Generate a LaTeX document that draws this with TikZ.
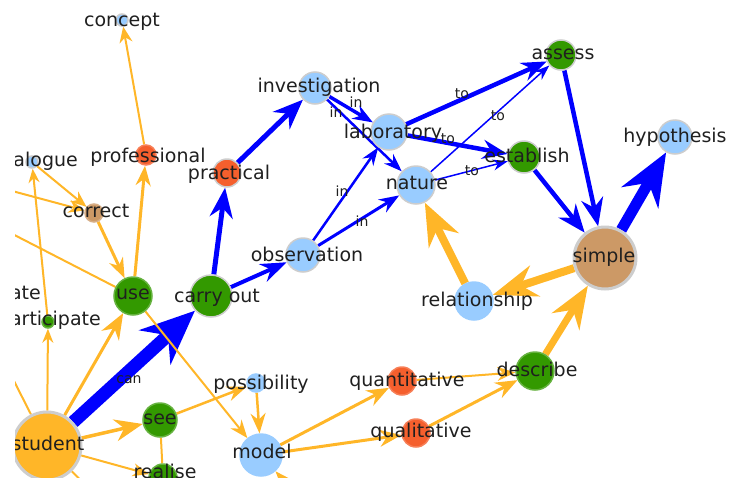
\documentclass[tikz,border=0pt]{standalone}
\usepackage{fontspec}
\setmainfont{DejaVu Sans}
\usetikzlibrary{arrows.meta}
\pgfdeclarelayer{bg}
\pgfsetlayers{bg,main}
\definecolor{lblue}{RGB}{153,204,255}
\definecolor{cgreen}{RGB}{51,153,0}
\definecolor{cred}{RGB}{245,95,45}
\definecolor{ctan}{RGB}{204,153,102}
\definecolor{cgold}{RGB}{255,182,40}
\definecolor{cblue}{RGB}{0,0,255}
\definecolor{rim}{RGB}{205,205,205}
\tikzset{
  cn/.style={circle, inner sep=0pt, minimum size=#1, line width=1.5pt},
  lb/.style={fill=lblue, draw=rim},
  gn/.style={fill=cgreen, draw=cgreen!75!white},
  gng/.style={fill=cgreen, draw=rim},
  rd/.style={fill=cred, draw=cred!80!white},
  tn/.style={fill=ctan, draw=ctan!80!white},
  txt/.style={font=\fontsize{19}{19}\selectfont, text=black!88, inner sep=0pt, text height=14pt, text depth=4.5pt},
  elbl/.style={font=\fontsize{14}{14}\selectfont, text=black!88, inner sep=0pt, text height=10pt, text depth=3pt},
  oe/.style={draw=cgold, line width=#1},
  be/.style={draw=cblue, line width=#1},
  hd/.style 2 args={-{Stealth[length=#1pt, width=#2pt]}},
}
\begin{document}
\begin{tikzpicture}[x=1pt, y=-1pt]
\useasboundingbox (0,0) rectangle (731,477);
% circles
\node[cn=12, lb] (concept) at (122,20) {};
\node[cn=20, rd] (professional) at (146,155) {};
\node[cn=12, lb] (dialogue) at (32,162) {};
\node[cn=18, tn] (correct) at (94,213) {};
\node[cn=38, gn] (use) at (133,296) {};
\node[cn=42, gng] (carryout) at (211,296) {};
\node[cn=28, rd, draw=rim] (practical) at (227,173) {};
\node[cn=32, lb] (investigation) at (315,88) {};
\node[cn=36, lb] (laboratory) at (389,132) {};
\node[cn=38, lb] (nature) at (416,185) {};
\node[cn=34, lb] (observation) at (303,255) {};
\node[cn=30, gng] (assess) at (561,55) {};
\node[cn=32, gng] (establish) at (524,157) {};
\node[cn=34, lb] (hypothesis) at (675,137) {};
\node[cn=62, tn, draw=rim, line width=3pt] (simple) at (605,258) {};
\node[cn=38, lb, draw=lblue] (relationship) at (474,301) {};
\node[cn=38, gn] (describe) at (535,371) {};
\node[cn=28, rd] (quantitative) at (402,381) {};
\node[cn=28, rd] (qualitative) at (416,433) {};
\node[cn=18, lb, draw=lblue] (possibility) at (256,383) {};
\node[cn=42, lb, draw=lblue] (model) at (261,455) {};
\node[cn=34, gn] (see) at (160,420) {};
\node[cn=28, gn] (realise) at (163,478) {};
\node[cn=68, fill=cgold, draw=rim, line width=3pt] (student) at (47,446) {};
\node[cn=12, gn] (participate) at (48,322) {};
% off-picture ends
\coordinate (offC) at (-40,177);
\coordinate (offU) at (-40,207);
\coordinate (offS) at (-20,314);
\coordinate (offB) at (100,500);
\coordinate (offM) at (310,510);
\begin{pgfonlayer}{bg}
% blue edges
\draw[be=13, hd={54}{46}] (student) -- (carryout);
\draw[be=5, hd={30}{23}] (carryout) -- (practical);
\draw[be=4, hd={26}{19}] (carryout) -- (observation);
\draw[be=5, hd={30}{24}] (practical) -- (investigation);
\draw[be=3.5, hd={20}{15}] (investigation) -- (laboratory);
\draw[be=2.5, hd={18}{13}] (investigation) -- (nature);
\draw[be=2.5, hd={18}{13}] (observation) -- (laboratory);
\draw[be=3, hd={20}{15}] (observation) -- (nature);
\draw[be=4.5, hd={25}{19}] (laboratory) -- (assess);
\draw[be=4.5, hd={25}{19}] (laboratory) -- (establish);
\draw[be=1.5, hd={15}{11}] (nature) -- (assess);
\draw[be=1.5, hd={15}{11}] (nature) -- (establish);
\draw[be=4.5, hd={28}{22}] (assess) -- (simple);
\draw[be=4.5, hd={28}{22}] (establish) -- (simple);
\draw[be=11, hd={52}{42}] (simple) -- (hypothesis);
% orange edges
\draw[oe=2, hd={16}{13}] (professional) -- (concept);
\draw[oe=3, hd={20}{15}] (use) -- (professional);
\draw[oe=2, hd={16}{13}] (dialogue) -- (correct);
\draw[oe=2, hd={16}{13}] (offC) -- (correct);
\draw[oe=3, hd={20}{15}] (correct) -- (use);
\draw[oe=2, hd={14}{11}] (participate) -- (dialogue);
\draw[oe=2, hd={14}{11}] (student) -- (participate);
\draw[oe=2] (use) -- (offU);
\draw[oe=3, hd={26}{20}] (student) -- (use);
\draw[oe=2, hd={18}{14}] (use) -- (model);
\draw[oe=3.5, hd={28}{22}] (student) -- (see);
\draw[oe=2.5, hd={20}{15}] (see) -- (possibility);
\draw[oe=2.5, hd={20}{15}] (possibility) -- (model);
\draw[oe=3, hd={22}{17}] (model) -- (quantitative);
\draw[oe=3, hd={22}{17}] (model) -- (qualitative);
\draw[oe=2, hd={18}{14}] (quantitative) -- (describe);
\draw[oe=3, hd={22}{17}] (qualitative) -- (describe);
\draw[oe=7, hd={42}{32}] (describe) -- (simple);
\draw[oe=8, hd={44}{32}] (simple) -- (relationship);
\draw[oe=8, hd={42}{33}] (relationship) -- (nature);
\draw[oe=2] (see) -- (realise);
\draw[oe=2, hd={16}{13}] (student) -- (realise);
\draw[oe=2] (student) -- (offS);
\draw[oe=2] (student) -- (offB);
\draw[oe=2.5, hd={20}{15}] (offM) -- (model);
\end{pgfonlayer}
% edge labels
\node[elbl] (l-can) at (129,380) {can};
\node[elbl] (l-in1) at (356,104) {in};
\node[elbl] (l-in2) at (336,114) {in};
\node[elbl] (l-in3) at (342,193) {in};
\node[elbl] (l-in4) at (362,223) {in};
\node[elbl] (l-to1) at (462,95) {to};
\node[elbl] (l-to2) at (448,140) {to};
\node[elbl] (l-to3) at (498,117) {to};
\node[elbl] (l-to4) at (472,172) {to};
% node texts
\node[txt] (t-concept) at (122,22) {concept};
\node[txt] (t-professional) at (148,158) {professional};
\node[txt, anchor=east] (t-dialogue) at (78,162) {dialogue};
\node[txt] (t-correct) at (96,213) {correct};
\node[txt] (t-use) at (133,295) {use};
\node[txt] (t-carryout) at (217,298) {carry out};
\node[txt] (t-practical) at (229,175) {practical};
\node[txt] (t-investigation) at (319,88) {investigation};
\node[txt] (t-laboratory) at (393,134) {laboratory};
\node[txt] (t-nature) at (417,185) {nature};
\node[txt] (t-observation) at (307,257) {observation};
\node[txt] (t-assess) at (563,55) {assess};
\node[txt] (t-establish) at (527,158) {establish};
\node[txt] (t-hypothesis) at (675,138) {hypothesis};
\node[txt] (t-simple) at (604,258) {simple};
\node[txt] (t-relationship) at (477,302) {relationship};
\node[txt] (t-describe) at (537,372) {describe};
\node[txt] (t-quantitative) at (407,382) {quantitative};
\node[txt] (t-qualitative) at (421,433) {qualitative};
\node[txt] (t-possibility) at (261,385) {possibility};
\node[txt] (t-model) at (262,454) {model};
\node[txt] (t-see) at (160,420) {see};
\node[txt] (t-realise) at (165,474) {realise};
\node[txt] (t-student) at (48,446) {student};
\node[txt, anchor=east] (t-participate) at (101,321) {participate};
\node[txt, anchor=east] (t-ate) at (41,295) {ate};
% left margin of the view
\fill[white] (0,0) rectangle (15,477);
\end{tikzpicture}
\end{document}
